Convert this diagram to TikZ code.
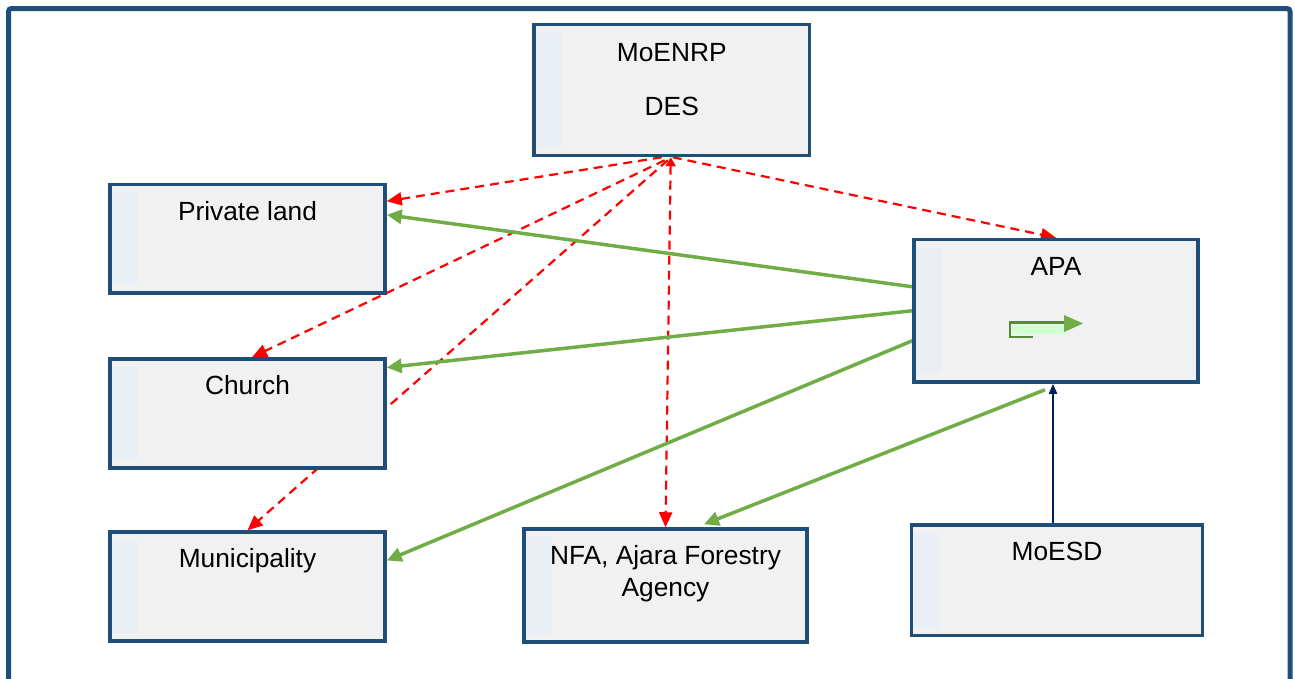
\documentclass[tikz,border=0pt]{standalone}
\usepackage{fontspec}
\setmainfont{Liberation Sans}
\usepackage{tikz}
\usetikzlibrary{arrows.meta,backgrounds}

\definecolor{boxblue}{RGB}{31,78,121}
\definecolor{boxfill}{RGB}{241,241,241}
\definecolor{stripe}{RGB}{234,239,245}
\definecolor{lgreen}{RGB}{112,173,71}
\definecolor{navy}{RGB}{0,32,96}

\begin{document}
\begin{tikzpicture}[x=1pt,y=-1pt,
    box/.style={draw=boxblue,fill=boxfill,line width=3.5pt,inner sep=0pt,
      path picture={\fill[stripe] ([xshift=2pt,yshift=-8pt]path picture bounding box.north west)
        rectangle ([xshift=28pt,yshift=8pt]path picture bounding box.south west);}},
    txt/.style={anchor=base,yshift=-37.5pt,inner sep=0pt,align=center,
      font=\fontsize{26.3}{31.5}\selectfont},
    redarr/.style={red,line width=2.2pt,dash pattern=on 9pt off 6pt,
      -{Triangle[length=15pt,width=13pt]}},
    grnarr/.style={lgreen,line width=3.5pt,-{Triangle[length=15pt,width=14pt]}},
    navarr/.style={navy,line width=2pt,-{Triangle[length=10pt,width=8pt]}}]
  \clip (0,0) rectangle (1295,678);
  \draw[boxblue,line width=5pt,rounded corners=3pt] (8.5,8.5) rectangle (1290,720);

  % two line labels: base is the last line
  \node[box,minimum width=275.5pt,minimum height=131pt,label={[txt,yshift=-55pt]north:MoENRP\\[22pt]DES}] (moe) at (671.75,90) {};
  \node[box,minimum width=275pt,minimum height=108.5pt,label={[txt]north:Private land}] (priv) at (247.5,238.75) {};
  \node[box,minimum width=275pt,minimum height=109pt,label={[txt]north:Church}] (church) at (247.5,413.5) {};
  \node[box,minimum width=275pt,minimum height=109pt,label={[txt]north:Municipality}] (muni) at (247.5,586.5) {};
  \node[box,minimum width=283pt,minimum height=113pt,label={[txt,yshift=-31.5pt]north:NFA, Ajara Forestry\\Agency}] (nfa) at (665.5,585.5) {};
  \node[box,minimum width=284pt,minimum height=142.5pt,label={[txt]north:APA}] (apa) at (1056,310.75) {};
  \node[box,minimum width=291pt,minimum height=110.5pt,label={[txt]north:MoESD}] (mesd) at (1057,580.25) {};

  % little arrow sign in APA
  \fill[green!18!white] (1012,325) rectangle (1066,334);
  \draw[lgreen!80!black,line width=2.5pt] (1033,337) -- (1010,337) -- (1010,322.5) -- (1067,322.5);
  \fill[lgreen] (1064,315) -- (1083,323.5) -- (1064,332) -- cycle;

  \begin{scope}[on background layer]
    \draw[redarr] ([xshift=-10pt]moe.south) -- ([yshift=37.5pt]priv.east);
    \draw[redarr] ([xshift=-7pt,yshift=-3pt]moe.south) -- ([xshift=4.5pt]church.north);
    \draw[redarr] ([xshift=-4pt,yshift=-3pt]moe.south) -- (muni.north);
    \draw[redarr,{Triangle[length=9pt,width=10pt]}-{Triangle[length=15pt,width=13pt]}]
      ([xshift=-1pt]moe.south) -- (nfa.north);
    \draw[redarr] ([xshift=1pt]moe.south) -- (apa.north);
    \draw[grnarr] ([yshift=24pt]apa.west) -- ([yshift=24pt]priv.east);
    \draw[grnarr] (apa.west) -- ([yshift=46pt]church.east);
    \draw[grnarr] ([yshift=-30pt]apa.west) -- ([yshift=26pt]muni.east);
    \draw[grnarr] ([xshift=-11pt,yshift=-6pt]apa.south) -- ([xshift=38.5pt,yshift=3pt]nfa.north);
    \draw[navarr] ([xshift=-4pt]mesd.north) -- ([xshift=-3pt]apa.south);
  \end{scope}
\end{tikzpicture}
\end{document}
